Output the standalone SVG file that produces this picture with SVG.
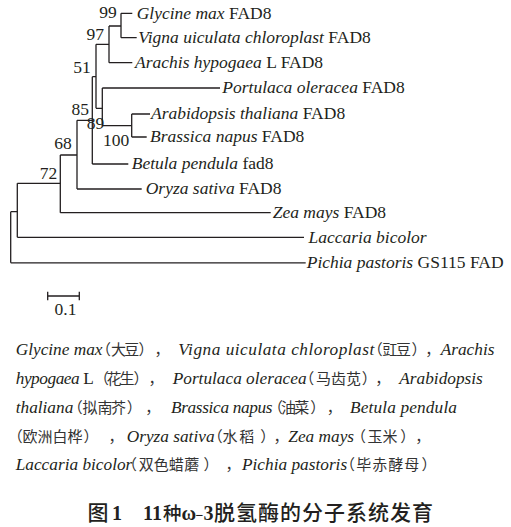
<svg xmlns="http://www.w3.org/2000/svg" width="511" height="527" viewBox="0 0 511 527">
<style>
.t{font-family:"Liberation Serif","Times New Roman",serif;font-size:17.5px;fill:#231f20}
.k{font-family:"Liberation Serif","Times New Roman",serif;font-size:17.3px;fill:#231f20}
.i{font-style:italic}
.c{font-family:"Noto Sans CJK SC",sans-serif;font-size:15px;fill:#333}
.b{font-family:"Liberation Serif","Times New Roman",serif;font-size:20px;font-weight:bold;fill:#231f20}
.bc{font-family:"Noto Sans CJK SC",sans-serif;font-size:21px;font-weight:500;fill:#231f20}
.e{stroke:#231f20;stroke-width:1.3;fill:none}
.n{text-anchor:end}
</style>
<rect width="511" height="527" fill="#fff"/>
<g id="connectors" class="e">
<path d="M121,13.3V37.7M121,13.3H132.3M121,37.7H136.7"/>
<path d="M109,26H121M109,26V62.7M109,62.7H132.3"/>
<path d="M96,44.3H109M96,44.3V108.3M96,108.3H102.3"/>
<path d="M102.3,88V125.7M102.3,88H220M102.3,125.7H131.7"/>
<path d="M131.7,114V137M131.7,114H150M131.7,137H146.7"/>
<path d="M92.3,76.7H96M92.3,76.7V164M92.3,164H128.3"/>
<path d="M77,120.3H92.3M77,120.3V189M77,189H141.7"/>
<path d="M60.3,155H77M60.3,155V212.7M60.3,212.7H270.7"/>
<path d="M17.3,183.3H60.3M17.3,183.3V237.3M17.3,237.3H304"/>
<path d="M10.7,211.7H17.3M10.7,211.7V262.8M10.7,262.8H305.7"/>
</g>
<g id="leaf-glycine"><text class="t" x="136.7" y="18.6"><tspan class="i">Glycine max</tspan> FAD8</text></g>
<g id="leaf-vigna"><text class="t" x="138.3" y="43"><tspan class="i">Vigna uiculata chloroplast</tspan> FAD8</text></g>
<g id="leaf-arachis"><text class="t" x="135" y="68"><tspan class="i">Arachis hypogaea</tspan> L FAD8</text></g>
<g id="leaf-portulaca"><text class="t" x="222.3" y="93.3"><tspan class="i">Portulaca oleracea</tspan> FAD8</text></g>
<g id="leaf-arabidopsis"><text class="t" x="151" y="119.3"><tspan class="i">Arabidopsis thaliana</tspan> FAD8</text></g>
<g id="leaf-brassica"><text class="t" x="150" y="142.3"><tspan class="i">Brassica napus</tspan> FAD8</text></g>
<g id="leaf-betula"><text class="t" x="131.7" y="169.3"><tspan class="i">Betula pendula</tspan> fad8</text></g>
<g id="leaf-oryza"><text class="t" x="145.7" y="194.3"><tspan class="i">Oryza sativa</tspan> FAD8</text></g>
<g id="leaf-zea"><text class="t" x="272.7" y="218"><tspan class="i">Zea mays</tspan> FAD8</text></g>
<g id="leaf-laccaria"><text class="t i" x="308.5" y="242.6">Laccaria bicolor</text></g>
<g id="leaf-pichia"><text class="t" x="306.7" y="268.1"><tspan class="i">Pichia pastoris</tspan> GS115 FAD</text></g>
<g id="node-99"><text class="t n" x="116.7" y="18.3">99</text></g>
<g id="node-97"><text class="t n" x="104" y="40">97</text></g>
<g id="node-51"><text class="t n" x="90.7" y="72.7">51</text></g>
<g id="node-85"><text class="t n" x="89" y="115">85</text></g>
<g id="node-89"><text class="t n" x="104.3" y="129">89</text></g>
<g id="node-100"><text class="t n" x="129.3" y="145.7">100</text></g>
<g id="node-68"><text class="t n" x="71.7" y="149">68</text></g>
<g id="node-72"><text class="t n" x="57.3" y="179.3">72</text></g>
<g id="scale-bar">
<path class="e" d="M47.7,296H79.3M47.7,291.7V300.3M79.3,291.7V300.3"/>
<text class="t" x="54.5" y="315">0.1</text>
</g>
<g id="caption">
<text class="k i" x="15.7" y="354.8">Glycine max</text>
<text class="c" x="96 110.9 124.2 138.5 154.5" y="354.8">（大豆），</text>
<text class="k i" x="178.3" y="354.8" textLength="196" lengthAdjust="spacing">Vigna uiculata chloroplast</text>
<text class="c" x="367.7 382.5 395.9 411.5 425.2" y="354.8">（豇豆），</text>
<text class="k i" x="440.7" y="354.8">Arachis</text>

<text class="k" x="15.7" y="383.7" textLength="78" lengthAdjust="spacing"><tspan class="i">hypogaea</tspan> L</text>
<text class="c" x="94 106.5 119.5 133.5 148.5" y="383.7">（花生），</text>
<text class="k i" x="172.7" y="383.7">Portulaca oleracea</text>
<text class="c" x="299.3 315.9 330.9 345.9 361.8 375.2" y="383.7">（马齿苋），</text>
<text class="k i" x="399.3" y="383.7">Arabidopsis</text>

<text class="k i" x="15.7" y="412.6">thaliana</text>
<text class="c" x="67.7 82.5 97.5 110.9 126.8 145.2" y="412.6">（拟南芥），</text>
<text class="k i" x="171" y="412.6" textLength="101.5" lengthAdjust="spacing">Brassica napus</text>
<text class="c" x="268 280.9 294.2 310.2 326.8" y="412.6">（油菜），</text>
<text class="k i" x="350" y="412.6" textLength="107" lengthAdjust="spacing">Betula pendula</text>

<text class="c" x="7.7 22.5 37.5 52.5 67.5 83.5 108.5" y="441.5">（欧洲白桦），</text>
<text class="k i" x="126.7" y="441.5">Oryza sativa</text>
<text class="c" x="207.7 222.5 239.2 260.2 273.5" y="441.5">（水稻），</text>
<text class="k i" x="288.3" y="441.5">Zea mays</text>
<text class="c" x="351 367.5 382.5 400.2 415.2" y="441.5">（玉米），</text>

<text class="k i" x="15.7" y="470.4">Laccaria bicolor</text>
<text class="c" x="122 138.7 153.7 168.7 184.2 203.5 225.5" y="470.4">（双色蜡蘑），</text>
<text class="k i" x="242" y="470.4">Pichia pastoris</text>
<text class="c" x="340 356.2 372.2 388.2 404.2 421.5" y="470.4">（毕赤酵母）</text>
</g>
<g id="title">
<text class="bc" x="87.5" y="520">图</text>
<text class="b" x="112" y="520">1</text>
<text class="b" x="143" y="520">11</text>
<text class="bc" x="163" y="520" style="font-size:18.5px">种</text>
<text class="b" x="181.5" y="520">ω</text>
<text class="b" x="195.5" y="520" style="font-size:14px">−</text>
<text class="b" x="203.5" y="520">3</text>
<text class="bc" x="214" y="520" letter-spacing="1">脱氢酶的分子系统发育</text>
</g>
</svg>
